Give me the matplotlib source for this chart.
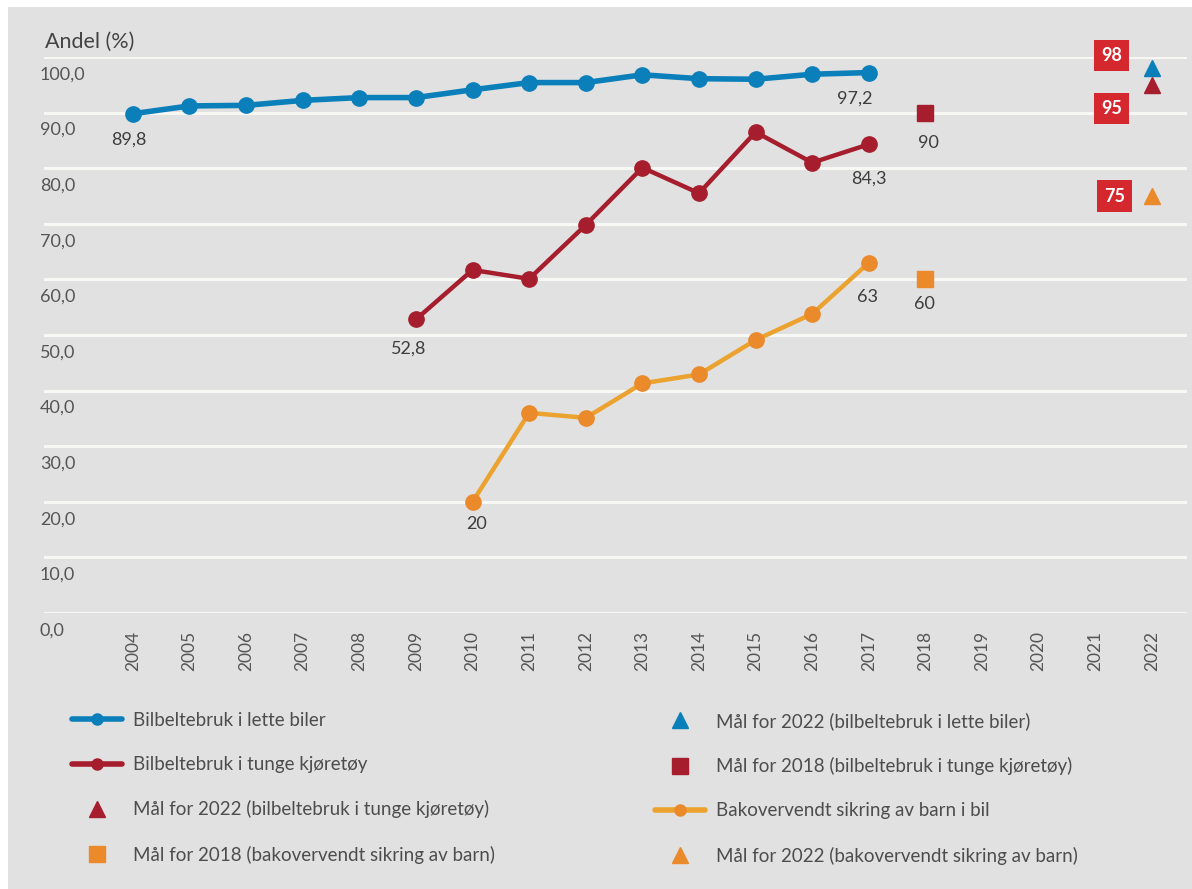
import matplotlib
matplotlib.use("Agg")
import matplotlib.pyplot as plt
import matplotlib.transforms as mtransforms
from matplotlib.lines import Line2D
from matplotlib.patches import Rectangle

plt.rcParams['font.family'] = ['Lato', 'DejaVu Sans']

# data
years = list(range(2004, 2023))
lette_years = list(range(2004, 2018))
lette = [89.8, 91.2, 91.3, 92.2, 92.7, 92.7, 94.1, 95.4, 95.4, 96.8, 96.1, 96.0, 96.9, 97.2]
tunge_years = list(range(2009, 2018))
tunge = [52.8, 61.7, 60.1, 69.8, 80.1, 75.5, 86.5, 81.0, 84.3]
barn_years = list(range(2010, 2018))
barn = [20.0, 36.0, 35.1, 41.3, 42.9, 49.1, 53.8, 63.0]
mal_2018_tunge = 90
mal_2018_barn = 60
mal_2022_lette = 98
mal_2022_tunge = 95
mal_2022_barn = 75
yticks = [0, 10, 20, 30, 40, 50, 60, 70, 80, 90, 100]
ytick_labels = ["0,0", "10,0", "20,0", "30,0", "40,0", "50,0", "60,0", "70,0", "80,0", "90,0", "100,0"]

BLUE = "#0a7fba"
RED = "#a61d2d"
ORANGE_LINE = "#eba22e"
ORANGE = "#ea8a2a"
BOX = "#d4272e"
BG = "#e1e1e1"
GRID = "#f7f7f3"
TXT = "#555555"
LBL = "#3d3d3d"

fig = plt.figure(figsize=(11.92, 8.89), dpi=100)
fig.patch.set_facecolor("white")
fig.patches.append(Rectangle((8 / 1192, 0), 1, 1 - 7 / 889, transform=fig.transFigure,
                             facecolor=BG, edgecolor="none", zorder=-10))

ax = fig.add_axes([44 / 1192, 1 - 613 / 889, (1187 - 44) / 1192, (613 - 57) / 889])
ax.set_facecolor("none")
ax.set_xlim(2002.43, 2022.62)
ax.set_ylim(0, 100)
for s in ax.spines.values():
    s.set_visible(False)
ax.set_axisbelow(True)
ax.yaxis.grid(True, color=GRID, lw=2.2)
ax.tick_params(length=0)

ax.set_xticks(years)
ax.set_xticklabels([str(y) for y in years], rotation=90, fontsize=12.5, color=TXT)
ax.tick_params(axis="x", pad=13)

ax.set_yticks(yticks)
ax.set_yticklabels(ytick_labels, fontsize=13, color=TXT, ha="left")
ax.tick_params(axis="y", pad=3)
shift = mtransforms.ScaledTranslation(0, -0.16, fig.dpi_scale_trans)
for lab in ax.get_yticklabels():
    lab.set_transform(lab.get_transform() + shift)

fig.text(45 / 1192, 1 - 42 / 889, "Andel (%)", fontsize=15.5, color="#444444", va="center")

# series
ax.plot(lette_years, lette, color=BLUE, lw=4, marker="o", ms=11, zorder=3)
ax.plot(tunge_years, tunge, color=RED, lw=3.2, marker="o", ms=11, zorder=3)
ax.plot(barn_years, barn, color=ORANGE_LINE, lw=3.2, marker="o", ms=11,
        markerfacecolor=ORANGE, markeredgecolor=ORANGE, zorder=3)

ax.plot([2018], [mal_2018_tunge], ls="none", marker="s", ms=11, color=RED, zorder=3)
ax.plot([2018], [mal_2018_barn], ls="none", marker="s", ms=11, color=ORANGE, zorder=3)
ax.plot([2022], [mal_2022_lette], ls="none", marker="^", ms=12, color=BLUE, zorder=3, clip_on=False)
ax.plot([2022], [mal_2022_tunge], ls="none", marker="^", ms=12, color=RED, zorder=3, clip_on=False)
ax.plot([2022], [mal_2022_barn], ls="none", marker="^", ms=12, color=ORANGE, zorder=3)

# data labels
def lbl(x, y, text, dx, dy):
    ax.annotate(text, xy=(x, y), xytext=(dx, dy), textcoords="offset points",
                ha="center", va="center", fontsize=13, color=LBL)

lbl(2004, lette[0], "89,8", -3, -19)
lbl(2017, lette[-1], "97,2", -10, -19)
lbl(2009, tunge[0], "52,8", -5, -21)
lbl(2017, tunge[-1], "84,3", 0, -25)
lbl(2010, barn[0], "20", 3, -16)
lbl(2017, barn[-1], "63", -1, -25)
lbl(2018, mal_2018_tunge, "90", 2, -22)
lbl(2018, mal_2018_barn, "60", -1, -18)

# target value boxes
def box(y, text, dx, dy):
    ax.annotate(text, xy=(2022, y), xytext=(dx, dy), textcoords="offset points",
                ha="center", va="center", fontsize=13, fontweight="bold", color="white",
                bbox=dict(boxstyle="square,pad=0.4", fc=BOX, ec="none"))

box(mal_2022_lette, "98", -29, 9)
box(mal_2022_tunge, "95", -29, -17)
box(mal_2022_barn, "75", -27, 0)

# legend, two columns placed separately
def line_handle(c, mc=None):
    return Line2D([], [], color=c, lw=4, marker="o", ms=8, solid_capstyle="round",
                  markerfacecolor=mc or c, markeredgecolor=mc or c)

def mark_handle(c, m):
    return Line2D([], [], ls="none", color=c, marker=m, ms=11)

h1 = [line_handle(BLUE), line_handle(RED), mark_handle(RED, "^"), mark_handle(ORANGE, "s")]
l1 = ["Bilbeltebruk i lette biler", "Bilbeltebruk i tunge kjøretøy",
      "Mål for 2022 (bilbeltebruk i tunge kjøretøy)", "Mål for 2018 (bakovervendt sikring av barn)"]
h2 = [mark_handle(BLUE, "^"), mark_handle(RED, "s"), line_handle(ORANGE_LINE, ORANGE), mark_handle(ORANGE, "^")]
l2 = ["Mål for 2022 (bilbeltebruk i lette biler)", "Mål for 2018 (bilbeltebruk i tunge kjøretøy)",
      "Bakovervendt sikring av barn i bil", "Mål for 2022 (bakovervendt sikring av barn)"]

for h, l, x0 in [(h1, l1, 72 / 1192), (h2, l2, 655 / 1192)]:
    leg = fig.legend(h, l, loc="upper left", bbox_to_anchor=(x0, 1 - 712 / 889),
                     frameon=False, fontsize=13.5, borderpad=0, borderaxespad=0,
                     handlelength=2.67, handletextpad=0.6, labelspacing=1.45)
    for t in leg.get_texts():
        t.set_color("#4d4d4d")

fig.savefig("out.png", dpi=100, facecolor=fig.get_facecolor())
